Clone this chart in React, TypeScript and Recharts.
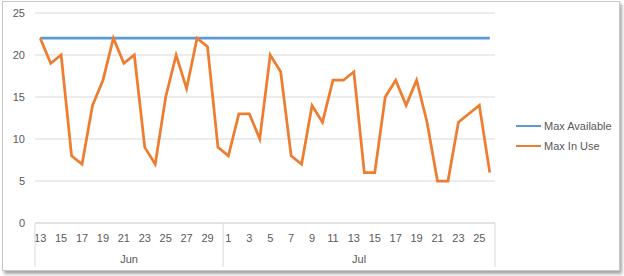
import React from "react";
import { LineChart, Line, XAxis, YAxis, CartesianGrid, Legend } from "recharts";

const junDays = ["13","14","15","16","17","18","19","20","21","22","23","24","25","26","27","28","29","30"];
const julDays = ["1","2","3","4","5","6","7","8","9","10","11","12","13","14","15","16","17","18","19","20","21","22","23","24","25","26"];
const months = ["Jun", "Jul"];
const maxInUse = [22,19,20,8,7,14,17,22,19,20,9,7,15,20,16,22,21,9, 8,13,13,10,20,18,8,7,14,12,17,17,18,6,6,15,17,14,17,12,5,5,12,13,14,6];
const maxAvailableValue = 22;
const yTicks = [0, 5, 10, 15, 20, 25];

const days = [...junDays, ...julDays];
const monthOf = [...junDays.map(() => months[0]), ...julDays.map(() => months[1])];
const data = days.map((d, i) => ({
  day: d,
  key: monthOf[i] + "-" + d,
  month: monthOf[i],
  maxAvailable: maxAvailableValue,
  maxInUse: maxInUse[i],
}));

const W = 616;
const H = 268;
const LEGEND_W = 100;
const M = { top: 11, right: 24, bottom: 0, left: 0 };
const YW = 32;
const XH = 47;
const band = (W - M.left - YW - M.right - LEGEND_W) / data.length;
const TXT = "#595959";
const FONT = "'Liberation Sans', Arial, sans-serif";

const monthCounts: Record<string, number> = {};
monthOf.forEach((m) => (monthCounts[m] = (monthCounts[m] || 0) + 1));

const DayTick = (props: any) => {
  const { x, y, index } = props;
  const d = data[index];
  const first = index === 0 || data[index - 1].month !== d.month;
  const last = index === data.length - 1;
  const n = monthCounts[d.month];
  return (
    <g>
      {index % 2 === 0 && (
        <text x={x} y={y + 19} textAnchor="middle" fill={TXT} fontSize={11} fontFamily={FONT}>
          {d.day}
        </text>
      )}
      {first && <line x1={x - band / 2} x2={x - band / 2} y1={y} y2={y + 44} stroke="#d9d9d9" strokeWidth={1} />}
      {last && <line x1={x + band / 2} x2={x + band / 2} y1={y} y2={y + 44} stroke="#d9d9d9" strokeWidth={1} />}
      {first && (
        <text x={x - band / 2 + (n * band) / 2} y={y + 40} textAnchor="middle" fill={TXT} fontSize={11} fontFamily={FONT}>
          {d.month}
        </text>
      )}
    </g>
  );
};

const LegendContent = () => (
  <div style={{ width: LEGEND_W, fontFamily: FONT, fontSize: 11, color: TXT }}>
    {[
      { name: "Max Available", color: "#5b9bd5" },
      { name: "Max In Use", color: "#ed7d31" },
    ].map((it) => (
      <div key={it.name} style={{ display: "flex", alignItems: "center", height: 20 }}>
        <div style={{ width: 25, height: 2.5, background: it.color, marginRight: 3 }} />
        <span>{it.name}</span>
      </div>
    ))}
  </div>
);

export default function App() {
  return (
    <div style={{ position: "absolute", left: 0, top: 0, width: 624, height: 276, background: "#fff" }}>
      <div
        style={{
          position: "absolute",
          left: 2,
          top: 1,
          width: 618,
          height: 270,
          boxSizing: "border-box",
          border: "1px solid #c8c8c8",
          boxShadow: "2px 3px 3px rgba(0,0,0,0.35)",
          background: "#fff",
        }}
      >
        <LineChart width={W} height={H} data={data} margin={M}>
          <CartesianGrid vertical={false} stroke="#d9d9d9" />
          <XAxis
            dataKey="key"
            interval={0}
            tickLine={false}
            tickSize={0}
            tickMargin={0}
            height={XH}
            axisLine={{ stroke: "#d9d9d9" }}
            padding={{ left: band / 2, right: band / 2 }}
            tick={<DayTick />}
          />
          <YAxis
            domain={[0, 25]}
            ticks={yTicks}
            width={YW}
            axisLine={false}
            tickLine={false}
            tickSize={0}
            tickMargin={10}
            tick={{ fill: TXT, fontSize: 11, fontFamily: FONT }}
          />
          <Legend
            layout="horizontal"
            verticalAlign="middle"
            align="right"
            content={<LegendContent />}
            wrapperStyle={{ left: 513, top: 114, width: LEGEND_W }}
          />
          <Line type="linear" dataKey="maxAvailable" name="Max Available" stroke="#5b9bd5" strokeWidth={2.75} dot={false} isAnimationActive={false} />
          <Line type="linear" dataKey="maxInUse" name="Max In Use" stroke="#ed7d31" strokeWidth={2.75} dot={false} isAnimationActive={false} />
        </LineChart>
      </div>
    </div>
  );
}
